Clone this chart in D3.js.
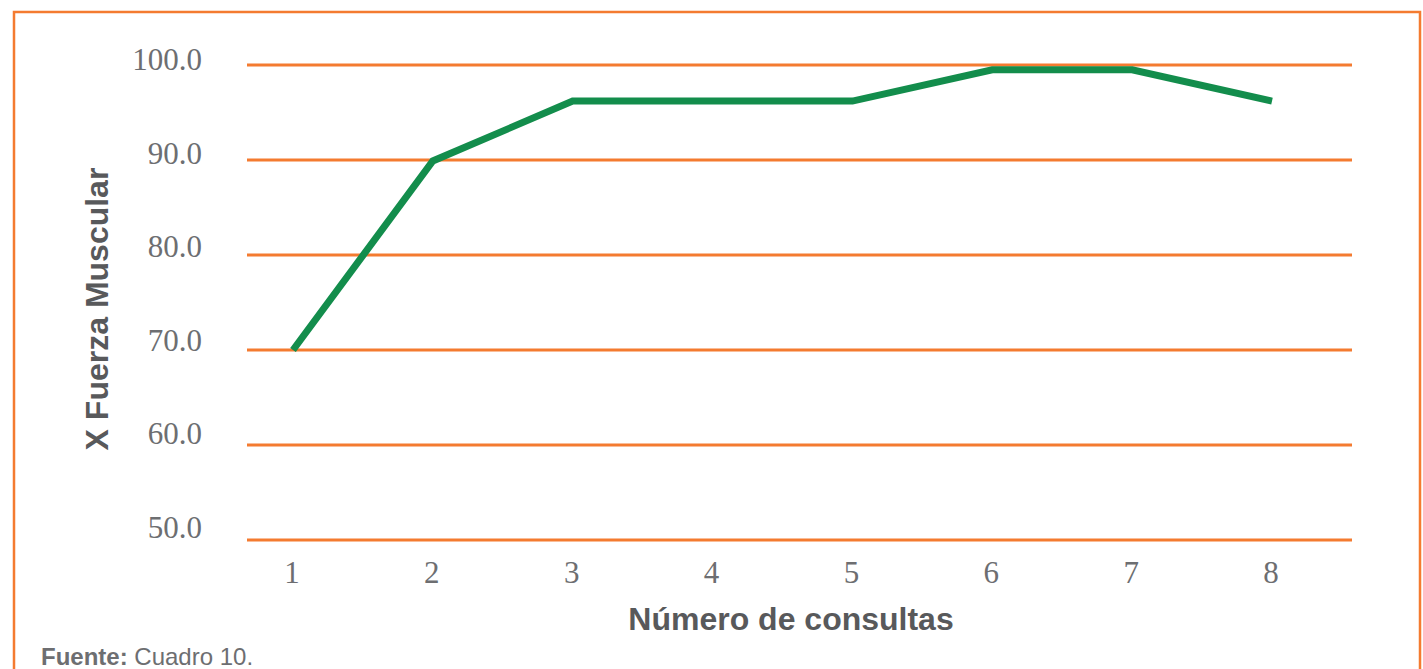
<!DOCTYPE html>
<html>
<head>
<meta charset="utf-8">
<script src="https://cdn.jsdelivr.net/npm/d3@7"></script>
<style>
  body { margin: 0; background: #fff; }
</style>
</head>
<body>
<div id="chart"></div>
<script>
var consultas = [1, 2, 3, 4, 5, 6, 7, 8]
var fuerza = [70.0, 89.9, 96.2, 96.2, 96.2, 99.5, 99.5, 96.2]
var yTicks = [50, 60, 70, 80, 90, 100]

var orange = '#f47b30'
var gray = '#6d6e71'

var svg = d3.select("#chart").append("svg").attr("width", 1423).attr("height", 669)

// marco
svg.append('path')
    .attr('d', 'M14,700 L14,12 L1420,12 L1420,700')
    .attr('fill', 'none')
    .attr('stroke', orange)
    .attr('stroke-width', 2.5)

var x = d3.scalePoint().domain(consultas).range([293, 1272])
var y = d3.scaleLinear().domain([50, 100]).range([540, 65])

// lineas de cuadricula
svg.selectAll('.grid')
    .data(yTicks)
    .enter().append('line')
    .attr('x1', 247)
    .attr('x2', 1352)
    .attr('y1', function(d) { return y(d) })
    .attr('y2', function(d) { return y(d) })
    .attr('stroke', orange)
    .attr('stroke-width', 3)

svg.selectAll('.ylab')
    .data(yTicks)
    .enter().append('text')
    .attr('x', 202)
    .attr('y', function(d) { return y(d) - 2 + (d - 50) * 0.14 })
    .attr('text-anchor', 'end')
    .attr('fill', gray)
    .style('font-family', '"Liberation Serif", serif')
    .style('font-size', '31px')
    .text(function(d) { return d3.format('.1f')(d) })

svg.selectAll('.xlab')
    .data(consultas)
    .enter().append('text')
    .attr('x', function(d) { return x(d) - 1 })
    .attr('y', 583)
    .attr('text-anchor', 'middle')
    .attr('fill', gray)
    .style('font-family', '"Liberation Serif", serif')
    .style('font-size', '31px')
    .text(function(d) { return d })

var lineFunc = d3.line()
    .x(function(d, i) { return x(consultas[i]) })
    .y(function(d) { return y(d) })

svg.append('path')
    .attr('d', lineFunc(fuerza))
    .attr('stroke', '#138d4c')
    .attr('stroke-width', 7)
    .attr('fill', 'none')

svg.append('text')
    .attr('transform', 'translate(108,309) rotate(-90)')
    .attr('text-anchor', 'middle')
    .attr('fill', '#58595b')
    .style('font-family', '"Liberation Sans", Arial, sans-serif')
    .style('font-weight', 'bold')
    .style('font-size', '32px')
    .text('X Fuerza Muscular')

svg.append('text')
    .attr('x', 791)
    .attr('y', 630)
    .attr('text-anchor', 'middle')
    .attr('fill', '#58595b')
    .style('font-family', '"Liberation Sans", Arial, sans-serif')
    .style('font-weight', 'bold')
    .style('font-size', '32px')
    .text('Número de consultas')

var fuente = svg.append('text')
    .attr('x', 41)
    .attr('y', 665)
    .attr('fill', gray)
    .style('font-family', '"Liberation Sans", Arial, sans-serif')
    .style('font-size', '24px')
fuente.append('tspan').style('font-weight', 'bold').text('Fuente:')
fuente.append('tspan').text(' Cuadro 10.')
</script>
</body>
</html>
